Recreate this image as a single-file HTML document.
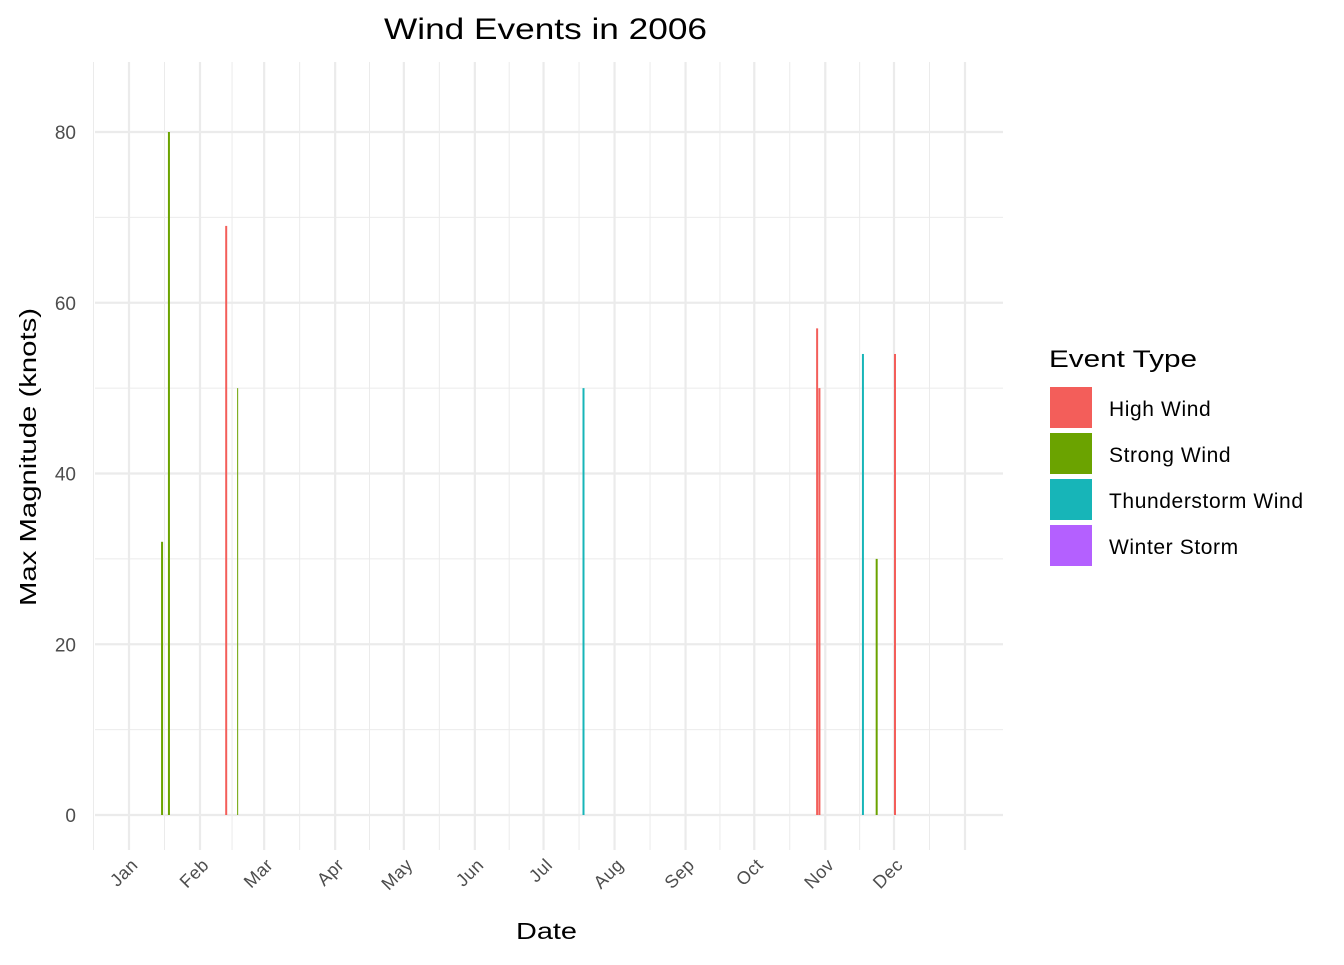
<!DOCTYPE html>
<html><head><meta charset="utf-8"><style>
body{margin:0;background:#fff;font-family:"Liberation Sans",Arial,sans-serif}
</style></head><body>
<svg width="1344" height="960" viewBox="0 0 1344 960">
<text x="384" y="39" font-size="30" textLength="323" lengthAdjust="spacingAndGlyphs" fill="#000">Wind Events in 2006</text>
<g id="grid"></g>
<g id="bars"></g>
<g id="axes"></g>
<text x="516" y="939" font-size="23" textLength="61" lengthAdjust="spacingAndGlyphs" fill="#000">Date</text>
<text transform="translate(36,606) rotate(-90)" font-size="23" textLength="298" lengthAdjust="spacingAndGlyphs" fill="#000">Max Magnitude (knots)</text>
<g id="legend">
<text x="1049" y="367" font-size="24" textLength="148" lengthAdjust="spacingAndGlyphs" fill="#000">Event Type</text>
</g>
</svg>
<script>
const months = ["Jan","Feb","Mar","Apr","May","Jun","Jul","Aug","Sep","Oct","Nov","Dec"];
const monthStartDays = [0,31,59,90,120,151,181,212,243,273,304,334,365];
const yTicks = [0,20,40,60,80];
const eventTypes = ["High Wind","Strong Wind","Thunderstorm Wind","Winter Storm"];
const typeColors = ["#F35E5A","#6BA300","#17B5B8","#B460FF"];
const eventDays = [14,17,42,47,198,300,301,320,326,334];
const eventMags = [32,80,69,50,50,57,50,54,30,54];
const eventTypeIdx = [1,1,0,1,2,0,0,2,1,0];
const eventWidths = [2,2,2,1,2,2,2,2,2,2];

const NS="http://www.w3.org/2000/svg";
const xS = d => 129 + d*(765/334);
const yS = v => 815 - v*(683/80);
const X0=95, X1=1003, Y0=62, Y1=850;
function mk(tag, attrs, parent){const e=document.createElementNS(NS,tag);for(const k in attrs)e.setAttribute(k,attrs[k]);parent.appendChild(e);return e;}
const grid=document.getElementById('grid'), bars=document.getElementById('bars'), axes=document.getElementById('axes'), legend=document.getElementById('legend');
for(let i=0;i<yTicks.length-1;i++){
  const v=(yTicks[i]+yTicks[i+1])/2;
  const l=mk('line',{x1:X0,x2:X1,y1:yS(v),y2:yS(v),stroke:'#ebebeb','stroke-width':1},grid);
  
  
}
const minorX=[-15.5];
for(let i=0;i<monthStartDays.length-1;i++)minorX.push((monthStartDays[i]+monthStartDays[i+1])/2);
minorX.forEach(d=>{
  const l=mk('line',{x1:xS(d),x2:xS(d),y1:Y0,y2:Y1,stroke:'#ebebeb','stroke-width':1},grid);
  
  
});
yTicks.forEach(v=>{
  const l=mk('line',{x1:X0,x2:X1,y1:yS(v),y2:yS(v),stroke:'#ebebeb','stroke-width':2.2},grid);
  
  
  const t=mk('text',{x:76,y:yS(v)+7,'text-anchor':'end','font-size':19,fill:'#4d4d4d'},axes);
  t.textContent=v;
  
  
});
monthStartDays.forEach((d,i)=>{
  const l=mk('line',{x1:xS(d),x2:xS(d),y1:Y0,y2:Y1,stroke:'#ebebeb','stroke-width':2.2},grid);
  
  
  if(i<months.length){
    const x=xS(d)+10, y=866;
    const t=mk('text',{x:x,y:y,'text-anchor':'end','font-size':18,'letter-spacing':0.5,fill:'#4d4d4d',transform:`rotate(-45 ${x} ${y})`},axes);
    t.textContent=months[i];
    
    
  }
});
eventDays.forEach((d,i)=>{
  const w=eventWidths[i];
  const r=mk('rect',{x:xS(d)-w/2+1,y:yS(eventMags[i]),width:w,height:yS(0)-yS(eventMags[i]),fill:typeColors[eventTypeIdx[i]]},bars);
  
  
});
eventTypes.forEach((n,i)=>{
  const y=387+i*46;
  const r=mk('rect',{x:1050,y:y,width:42,height:41,fill:typeColors[i]},legend);
  
  
  const t=mk('text',{x:1109,y:y+29,'font-size':21,'letter-spacing':0.6,fill:'#000'},legend);
  t.textContent=n;
  
  
});
</script>
</body></html>
